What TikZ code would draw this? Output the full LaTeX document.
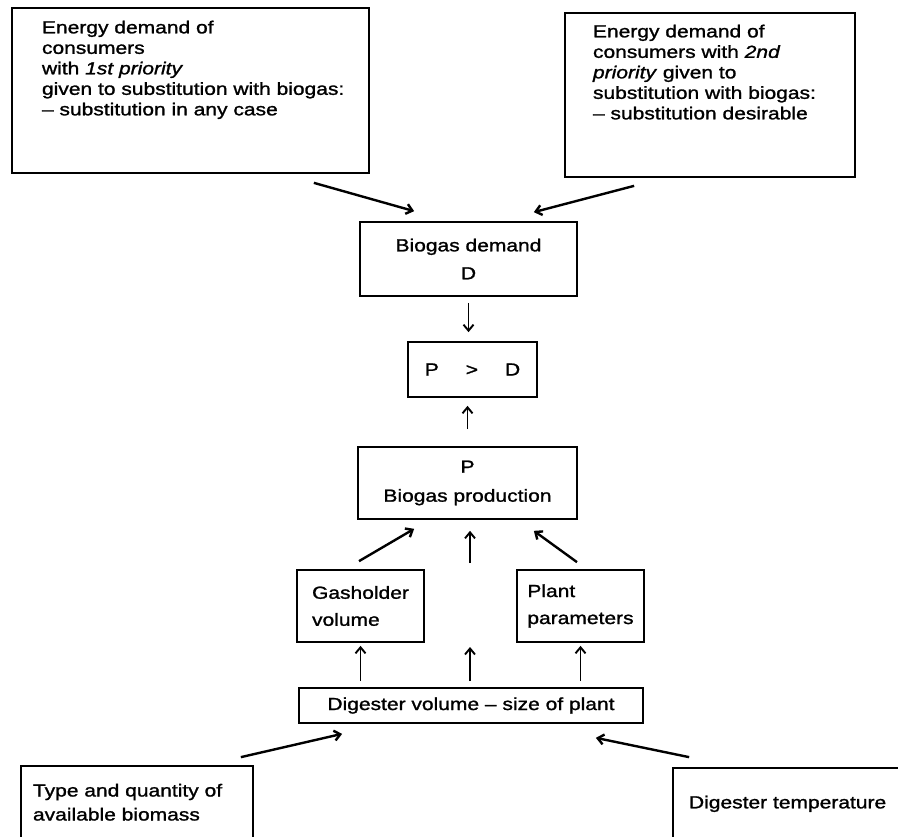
\documentclass[tikz,border=0pt]{standalone}
\usepackage{fontspec}
\setmainfont{Liberation Sans}[FakeStretch=1.2, FakeBold=1.3]
\usetikzlibrary{arrows.meta}
\newcommand{\boxtext}[3]{\parbox[t][#2][t]{#1}{\begin{tabular}[t]{@{}l@{}}#3\end{tabular}}}
\tikzset{
  topbox/.style={draw, line width=1.7pt, font=\fontsize{17.5}{20.5}\selectfont},
  box/.style={topbox, inner sep=0pt, align=center},
  arr/.style={line width=1.9pt, -{Straight Barb[length=6pt,width=10pt]}},
  slant/.style={arr, line width=2.4pt}
}

\begin{document}
\begin{tikzpicture}[x=1pt, y=-1pt]
    \useasboundingbox (0,0) rectangle (898,837);
    \clip (0,0) rectangle (898,837);

    % energy demand, top
    \node[topbox, inner xsep=30pt, inner ysep=11pt] (first) at (190.5,90.5) {\boxtext{297pt}{143pt}{Energy demand of\\ consumers\\ with \textit{1st priority}\\ given to substitution with biogas:\\ \textendash{} substitution in any case}};
    \node[topbox, inner xsep=28pt, inner ysep=10pt] (second) at (710,95) {\boxtext{234pt}{144pt}{Energy demand of\\ consumers with \textit{2nd}\\ \textit{priority} given to\\ substitution with biogas:\\ \textendash{} substitution desirable}};

    % demand and production
    \node[box, minimum width=217pt, minimum height=74pt, font=\fontsize{17.5}{28}\selectfont] (demand) at (468.5,259) {Biogas demand\\ D};
    \node[box, minimum width=129pt, minimum height=55pt] (compare) at (472.5,369.5) {P\hspace{27pt}>\hspace{27pt}D};
    \node[box, minimum width=219pt, minimum height=72pt, font=\fontsize{17.5}{29}\selectfont] (production) at (467.5,483) {P\\ Biogas production};

    % plant
    \node[box, align=left, minimum width=127pt, minimum height=72pt, font=\fontsize{17.5}{27}\selectfont] (gasholder) at (360.5,606) {Gasholder\\ volume};
    \node[box, align=left, minimum width=127pt, minimum height=72pt, font=\fontsize{17.5}{27}\selectfont] (plant) at (580.5,606) {Plant\\ parameters};
    \coordinate (gap) at (470,605);
    \node[box, minimum width=344pt, minimum height=35pt] (digester) at (471,705.5) {Digester volume \textendash{} size of plant};

    % inputs, bottom
    \node[topbox, inner xsep=12pt, inner ysep=13.7pt, font=\fontsize{17.5}{24}\selectfont] (biomass) at (137,818) {\boxtext{208pt}{76.6pt}{Type and quantity of\\ available biomass}};
    \node[topbox, inner xsep=16pt, inner ysep=26pt] (temperature) at (806.5,819) {\boxtext{235pt}{50pt}{Digester temperature}};

    % arrows
    \draw[slant] ([shift={(-56,9)}]first.south east) -- ([shift={(55,-10)}]demand.north west);
    \draw[slant] ([shift={(70,8)}]second.south west) -- ([shift={(-44,-9)}]demand.north east);
    \draw[arr, shorten <=6pt, shorten >=9pt] (demand.south) -- (demand.south |- compare.north);
    \draw[arr, shorten <=17pt, shorten >=8pt] (production.north) -- (production.north |- compare.south);
    \draw[slant] ([shift={(-1.5,-8)}]gasholder.north) -- ([shift={(57,9)}]production.south west);
    \draw[arr, shorten <=42pt, shorten >=11pt] (gap) -- (gap |- production.south);
    \draw[slant] ([shift={(-3.5,-7)}]plant.north) -- ([shift={(-44,11)}]production.south east);
    \draw[arr, shorten <=6pt, shorten >=3pt] (gasholder.south |- digester.north) -- (gasholder.south);
    \draw[arr, shorten <=6pt, shorten >=42pt] (gap |- digester.north) -- (gap);
    \draw[arr, shorten <=6pt, shorten >=3pt] (plant.south |- digester.north) -- (plant.south);
    \draw[slant] ([shift={(-13,-8)}]biomass.north east) -- ([shift={(44,10)}]digester.south west);
    \draw[slant] ([shift={(17,-10)}]temperature.north west) -- ([shift={(-48,14)}]digester.south east);
\end{tikzpicture}
\end{document}
